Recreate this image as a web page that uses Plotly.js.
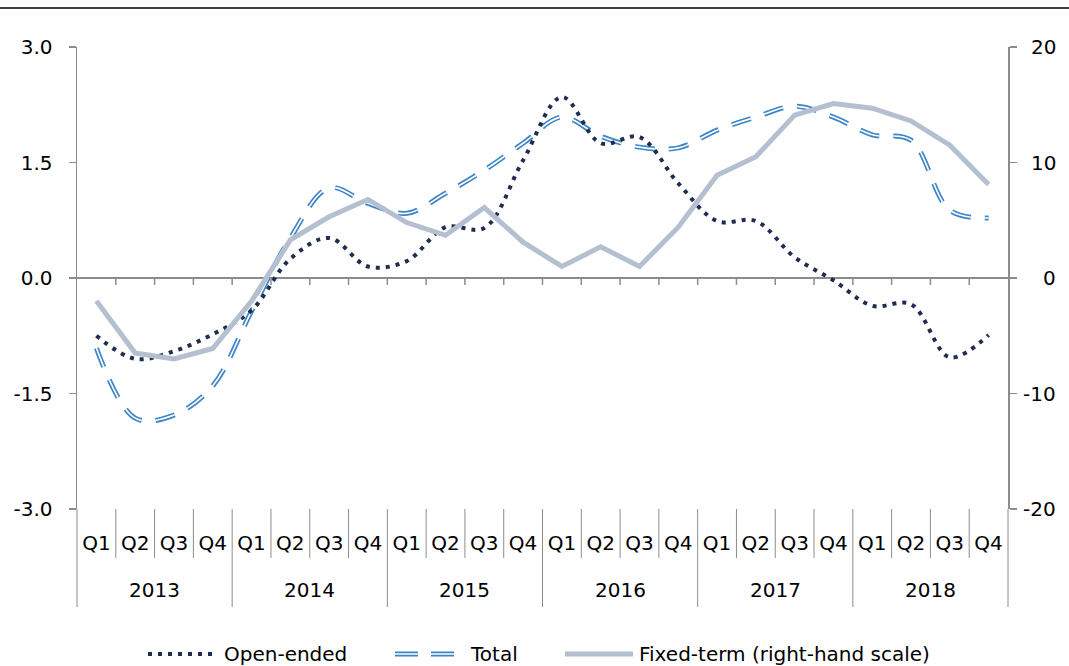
<!DOCTYPE html>
<html>
<head>
<meta charset="utf-8">
<script src="https://cdn.plot.ly/plotly-3.0.1.min.js"></script>
<style>
  html, body { margin: 0; padding: 0; background: #fff; }
  #chart { width: 1069px; height: 666px; }
</style>
</head>
<body>
<div id="chart"></div>
<script>
// ---- data ----
const years = ['2013', '2014', '2015', '2016', '2017', '2018'];
const quarters = ['Q1', 'Q2', 'Q3', 'Q4'];
const openEnded = [-0.75, -1.05, -0.95, -0.73, -0.42, 0.25, 0.52, 0.15, 0.22, 0.66, 0.65, 1.53,
                   2.35, 1.75, 1.83, 1.23, 0.74, 0.74, 0.27, -0.03, -0.36, -0.34, -1.03, -0.74];
const total = [-0.91, -1.82, -1.78, -1.40, -0.43, 0.52, 1.17, 0.97, 0.84, 1.10, 1.40, 1.75,
               2.09, 1.84, 1.70, 1.69, 1.92, 2.09, 2.23, 2.09, 1.86, 1.79, 0.88, 0.78];
const fixedTerm = [-2.0, -6.5, -7.0, -6.1, -2.0, 3.3, 5.3, 6.8, 4.8, 3.7, 6.1, 3.1,
                   1.0, 2.7, 1.0, 4.4, 8.9, 10.5, 14.1, 15.1, 14.7, 13.6, 11.5, 8.1];
const seriesNames = ['Open-ended', 'Total', 'Fixed-term (right-hand scale)'];
const leftTickVals = [-3, -1.5, 0, 1.5, 3];
const leftTickText = ['-3.0', '-1.5', '0.0', '1.5', '3.0'];
const rightTickVals = [-20, -10, 0, 10, 20];
const rightTickText = ['-20', '-10', '0', '10', '20'];

// categories
const cats = [], catText = [];
years.forEach(y => quarters.forEach(q => { cats.push(y + ' ' + q); catText.push(q); }));
const n = cats.length;

const FONT = '"DejaVu Sans", Verdana, sans-serif';
const FS = 20;
const AX = '#8c8c8c';
const C_OPEN = '#1f2d50', C_TOTAL = '#3d85c6', C_FIXED = '#b4bfd0';
const DASH_TOTAL = '20px,14px', DASH_OPEN = '4px,6px';

const traces = [
  { x: cats, y: fixedTerm, yaxis: 'y2', type: 'scatter', mode: 'lines', name: seriesNames[2],
    line: { color: C_FIXED, width: 5 } },
  { x: cats, y: total, type: 'scatter', mode: 'lines', name: seriesNames[1],
    line: { color: C_TOTAL, width: 5, dash: DASH_TOTAL, shape: 'spline', smoothing: 1 } },
  { x: cats, y: total, type: 'scatter', mode: 'lines', name: seriesNames[1], hoverinfo: 'skip',
    line: { color: '#ffffff', width: 1.6, dash: DASH_TOTAL, shape: 'spline', smoothing: 1 } },
  { x: cats, y: openEnded, type: 'scatter', mode: 'lines', name: seriesNames[0],
    line: { color: C_OPEN, width: 4, dash: DASH_OPEN, shape: 'spline', smoothing: 1 } }
];

// pixel helpers for decorative items (plot area: x 77..1008, y 47..509)
const PW = 931, PH = 462;
const px = v => (v - 77) / PW;
const py = v => (509 - v) / PH;

const shapes = [];
// top rule
shapes.push({ type: 'line', xref: 'paper', yref: 'paper', x0: px(0), x1: px(1069),
              y0: py(8), y1: py(8), line: { color: '#000', width: 1.5 } });
// category separators below plot
for (let k = 0; k <= n; k++) {
  const isYear = (k % 4 === 0);
  shapes.push({ type: 'line', xref: 'paper', yref: 'paper', x0: k / n, x1: k / n,
                y0: 0, y1: isYear ? py(607) : py(558), line: { color: AX, width: 1 } });
}
// small ticks on the zero line
for (let k = 1; k < n; k++) {
  shapes.push({ type: 'line', xref: 'paper', yref: 'y', x0: k / n, x1: k / n,
                y0: 0, y1: -0.09, line: { color: AX, width: 1.5 } });
}

// year labels
const annotations = years.map((y, i) => ({
  text: y, xref: 'x', yref: 'paper', x: 4 * i + 1.5, y: py(590), yanchor: 'middle',
  showarrow: false, font: { family: FONT, size: FS, color: '#000' }
}));

// right-hand axis labels (right-aligned, as in the original)
rightTickVals.forEach((v, i) => {
  annotations.push({ text: rightTickText[i], xref: 'paper', yref: 'y2', x: px(1058), y: v,
                     xanchor: 'right', yanchor: 'middle', showarrow: false,
                     font: { family: FONT, size: FS, color: '#000' } });
});

// custom legend
const LY = py(654);
const legendItems = [
  { name: seriesNames[0], s0: 148, s1: 213, tx: 222, color: C_OPEN, width: 4, dash: DASH_OPEN },
  { name: seriesNames[1], s0: 395, s1: 457, tx: 468, color: C_TOTAL, width: 5, dash: '23px,13px', hollow: true },
  { name: seriesNames[2], s0: 565, s1: 633, tx: 637, color: C_FIXED, width: 5, dash: 'solid' }
];
legendItems.forEach(it => {
  shapes.push({ type: 'line', xref: 'paper', yref: 'paper', x0: px(it.s0), x1: px(it.s1),
                y0: LY, y1: LY, line: { color: it.color, width: it.width, dash: it.dash } });
  if (it.hollow) {
    shapes.push({ type: 'line', xref: 'paper', yref: 'paper', x0: px(it.s0), x1: px(it.s1),
                  y0: LY, y1: LY, line: { color: '#fff', width: 1.6, dash: it.dash } });
  }
  annotations.push({ text: it.name, xref: 'paper', yref: 'paper', x: px(it.tx), y: LY,
                     xanchor: 'left', yanchor: 'middle', showarrow: false,
                     font: { family: FONT, size: FS, color: '#000' } });
});

const layout = {
  width: 1069, height: 666,
  margin: { l: 77, r: 61, t: 47, b: 157 },
  paper_bgcolor: '#fff', plot_bgcolor: '#fff',
  font: { family: FONT, size: FS, color: '#000' },
  showlegend: false,
  xaxis: {
    type: 'category', showgrid: false, zeroline: false, showline: false, ticks: '',
    tickvals: cats, ticktext: catText, tickangle: 0, ticklabelstandoff: 20,
    tickfont: { family: FONT, size: FS, color: '#000' },
    range: [-0.5, n - 0.5], automargin: false
  },
  yaxis: {
    range: [-3, 3], tickvals: leftTickVals, ticktext: leftTickText,
    showgrid: false, zeroline: true, zerolinecolor: AX, zerolinewidth: 1.5,
    showline: true, linecolor: AX, linewidth: 1.5, ticks: 'outside', ticklen: 7,
    tickcolor: AX, tickwidth: 1.5, ticklabelstandoff: 12, automargin: false,
    tickfont: { family: FONT, size: FS, color: '#000' }
  },
  yaxis2: {
    range: [-20, 20], tickvals: rightTickVals, overlaying: 'y', side: 'right',
    showticklabels: false, showgrid: false, zeroline: false,
    showline: true, linecolor: AX, linewidth: 1.5, ticks: 'outside', ticklen: 7,
    tickcolor: AX, tickwidth: 1.5, automargin: false
  },
  shapes: shapes,
  annotations: annotations
};

Plotly.newPlot('chart', traces, layout, { displayModeBar: false, staticPlot: true });
</script>
</body>
</html>
